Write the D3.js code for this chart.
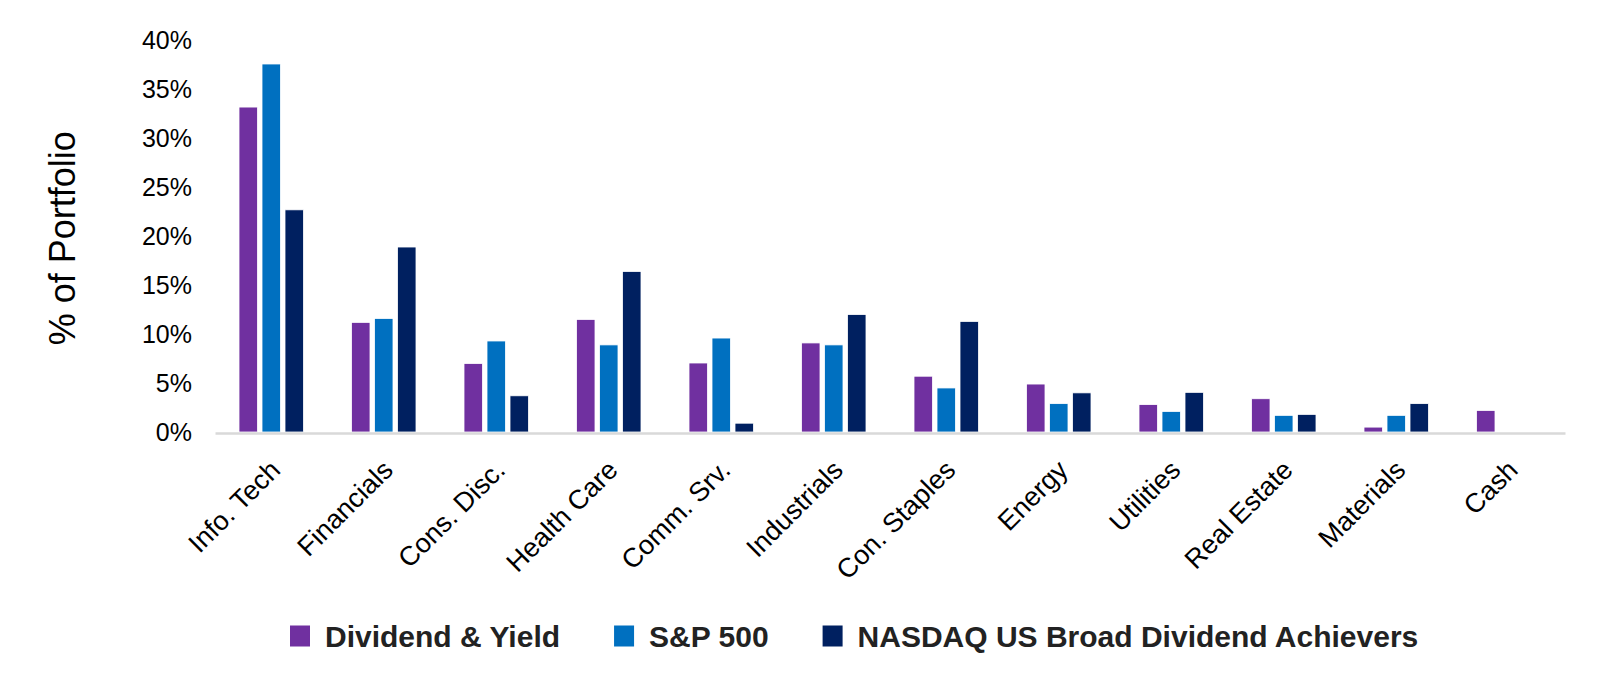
<!DOCTYPE html>
<html>
<head>
<meta charset="utf-8">
<script src="https://cdn.jsdelivr.net/npm/d3@7"></script>
<style>
  html, body { margin: 0; padding: 0; background: #fff; }
  #chart { width: 1600px; height: 687px; }
  text { font-family: Arial, "Liberation Sans", Helvetica, sans-serif; }
</style>
</head>
<body>
<div id="chart"></div>
<script>
// sectors along the x axis
const sectors = ["Info. Tech", "Financials", "Cons. Disc.", "Health Care", "Comm. Srv.",
    "Industrials", "Con. Staples", "Energy", "Utilities", "Real Estate", "Materials", "Cash"];

// series names + weights (% of portfolio)
const seriesNames = ["Dividend & Yield", "S&P 500", "NASDAQ US Broad Dividend Achievers"];
const dividendYield = [33.2, 11.2, 7.0, 11.5, 7.05, 9.1, 5.7, 4.9, 2.8, 3.4, 0.5, 2.2];
const sp500 = [37.6, 11.6, 9.3, 8.9, 9.6, 8.9, 4.5, 2.9, 2.1, 1.7, 1.7, 0];
const nasdaqAchievers = [22.7, 18.9, 3.7, 16.4, 0.9, 12.0, 11.3, 4.0, 4.05, 1.8, 2.9, 0];

const yTicks = [0, 5, 10, 15, 20, 25, 30, 35, 40];
const colors = ["#7030A0", "#0070C0", "#002060"];

const width = 1600, height = 687;
const margins = { top: 40.5, right: 35, bottom: 255, left: 215 };

const svg = d3.select("#chart").append("svg")
    .attr("width", width)
    .attr("height", height);

const x = d3.scaleBand()
    .domain(sectors)
    .range([margins.left, width - margins.right])
    .paddingInner(0)
    .paddingOuter(0);

const y = d3.scaleLinear()
    .domain([0, 40])
    .range([height - margins.bottom, margins.top]);

// bars within a group
const barW = 18.5, barStep = 23;
const xSub = d3.scaleOrdinal()
    .domain(seriesNames)
    .range(seriesNames.map((_, i) => (i - 1) * barStep - barW / 2));

const rows = sectors.map((s, i) => ({
    sector: s,
    values: [dividendYield[i], sp500[i], nasdaqAchievers[i]]
}));

// y axis labels (no line, no ticks)
const yAxis = svg.append("g")
    .attr("transform", `translate(${margins.left - 23},0)`)
    .call(d3.axisLeft(y).tickValues(yTicks).tickFormat(d => d + "%").tickSize(0));
yAxis.select(".domain").remove();
yAxis.selectAll("text")
    .attr("x", 0)
    .attr("font-size", 25)
    .attr("font-family", "Arial, 'Liberation Sans', sans-serif")
    .attr("fill", "#000");

// y title
svg.append("text")
    .attr("transform", `translate(62,${(y(0) + y(40)) / 2 + 2}) rotate(-90)`)
    .attr("text-anchor", "middle")
    .attr("dominant-baseline", "central")
    .attr("font-size", 36)
    .attr("fill", "#000")
    .text("% of Portfolio");

// bars
const groups = svg.append("g").selectAll("g")
    .data(rows)
    .join("g")
    .attr("transform", d => `translate(${x(d.sector) + x.bandwidth() / 2},0)`);

groups.selectAll("rect")
    .data(d => d.values.map((v, i) => ({ name: seriesNames[i], value: v, i })))
    .join("rect")
    .attr("x", d => xSub(d.name))
    .attr("y", d => y(d.value))
    .attr("width", barW)
    .attr("height", d => y(0) - y(d.value))
    .attr("fill", d => colors[d.i])
    .attr("stroke", "#fff")
    .attr("stroke-width", 0.8)
    .attr("display", d => d.value > 0 ? null : "none");

// x axis (light gray baseline) + rotated labels
const xAxis = svg.append("g")
    .attr("transform", `translate(0,${y(0) + 1})`)
    .call(d3.axisBottom(x).tickSize(0).tickSizeOuter(0));
xAxis.select(".domain")
    .attr("stroke", "#d9d9d9")
    .attr("stroke-width", 2.5);
xAxis.selectAll("text")
    .attr("font-size", 27)
    .attr("font-family", "Arial, 'Liberation Sans', sans-serif")
    .attr("fill", "#000")
    .attr("text-anchor", "end")
    .attr("y", 0)
    .attr("dy", "0.35em")
    .attr("transform", "translate(4,32) rotate(-45)");

// legend
const legend = svg.append("g")
    .attr("transform", `translate(290,${height - 51})`);
let lx = 0;
seriesNames.forEach((name, i) => {
    const item = legend.append("g").attr("transform", `translate(${lx},0)`);
    item.append("rect")
        .attr("x", 0)
        .attr("y", -10.5)
        .attr("width", 20)
        .attr("height", 21)
        .attr("fill", colors[i]);
    const t = item.append("text")
        .attr("x", 35)
        .attr("y", 0)
        .attr("dy", "0.35em")
        .attr("font-size", 30)
        .attr("font-weight", "bold")
        .attr("fill", "#222")
        .text(name);
    lx += 35 + t.node().getComputedTextLength() + 54;
});
</script>
</body>
</html>
